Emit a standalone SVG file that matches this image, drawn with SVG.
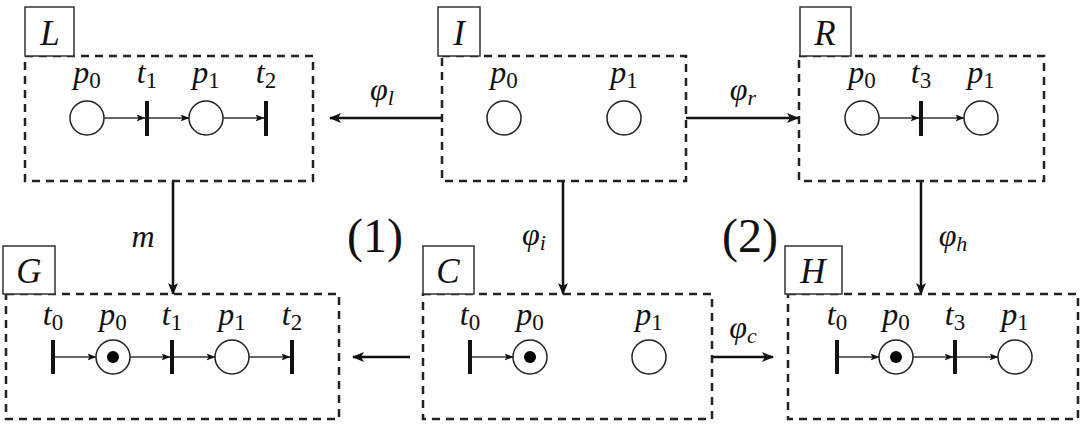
<svg xmlns="http://www.w3.org/2000/svg" width="1083" height="437" viewBox="0 0 1083 437">
<style>
.frame{fill:none;stroke:#222;stroke-width:2.5;stroke-dasharray:8 6}
.tag{fill:#fff;stroke:#333;stroke-width:1.5}
.place{fill:#fff;stroke:#222;stroke-width:1.5}
.tok{fill:#000}
.tr{stroke:#111;stroke-width:4}
.arc{stroke:#333;stroke-width:1.6;fill:none;marker-end:url(#sm)}
.map{stroke:#111;stroke-width:2.5;fill:none;marker-end:url(#bg)}
</style>
<defs>
<marker id="bg" viewBox="0 0 12 10" refX="11" refY="5" markerWidth="12" markerHeight="10" markerUnits="userSpaceOnUse" orient="auto"><path d="M0,0 L12,5 L0,10 L3,5 z" fill="#111"/></marker>
<marker id="sm" viewBox="0 0 9 7" refX="8.5" refY="3.5" markerWidth="9" markerHeight="7" markerUnits="userSpaceOnUse" orient="auto"><path d="M0,0 L9,3.5 L0,7 L2,3.5 z" fill="#111"/></marker>
</defs>

<g id="connectors">
<line class="map" x1="442" y1="118" x2="330" y2="118"/>
<line class="map" x1="686" y1="118" x2="798" y2="118"/>
<line class="map" x1="173" y1="181" x2="173" y2="294"/>
<line class="map" x1="563" y1="181" x2="563" y2="294"/>
<line class="map" x1="921" y1="181" x2="921" y2="294"/>
<line class="map" x1="410" y1="357" x2="353" y2="357"/>
<line class="map" x1="712" y1="357" x2="773" y2="357"/>
</g>

<g id="mapLabels" font-family="Liberation Serif, serif" font-style="italic" font-size="32" fill="#111" text-anchor="middle">
<text x="382" y="100">φ<tspan font-size="22" dy="5">l</tspan></text>
<text x="743" y="100">φ<tspan font-size="22" dy="5">r</tspan></text>
<text x="143" y="247">m</text>
<text x="534" y="245">φ<tspan font-size="22" dy="5">i</tspan></text>
<text x="953" y="246">φ<tspan font-size="22" dy="5">h</tspan></text>
<text x="743" y="338">φ<tspan font-size="22" dy="5">c</tspan></text>
<text x="375" y="252" font-style="normal" font-size="48">(1)</text>
<text x="750" y="252" font-style="normal" font-size="48">(2)</text>
</g>

<g id="L" font-family="Liberation Serif, serif" font-style="italic" font-size="32" fill="#111" text-anchor="middle">
<rect class="frame" x="25" y="56" width="288" height="125"/>
<rect class="tag" x="25" y="7" width="49" height="49"/>
<text x="50" y="45" font-size="35">L</text>
<circle class="place" cx="87" cy="118" r="17"/>
<line class="tr" x1="147" y1="101" x2="147" y2="136"/>
<circle class="place" cx="206" cy="118" r="17"/>
<line class="tr" x1="266" y1="101" x2="266" y2="136"/>
<line class="arc" x1="104" y1="118" x2="145" y2="118"/>
<line class="arc" x1="149" y1="118" x2="189" y2="118"/>
<line class="arc" x1="223" y1="118" x2="264" y2="118"/>
<text x="87" y="83">p<tspan font-style="normal" font-size="23" dy="5">0</tspan></text>
<text x="147" y="83">t<tspan font-style="normal" font-size="23" dy="5">1</tspan></text>
<text x="206" y="83">p<tspan font-style="normal" font-size="23" dy="5">1</tspan></text>
<text x="266" y="83">t<tspan font-style="normal" font-size="23" dy="5">2</tspan></text>
</g>

<g id="I" font-family="Liberation Serif, serif" font-style="italic" font-size="32" fill="#111" text-anchor="middle">
<rect class="frame" x="442" y="56" width="244" height="125"/>
<rect class="tag" x="438" y="7" width="42" height="49"/>
<text x="459" y="45" font-size="35">I</text>
<circle class="place" cx="504" cy="118" r="17"/>
<circle class="place" cx="624" cy="118" r="17"/>
<text x="504" y="83">p<tspan font-style="normal" font-size="23" dy="5">0</tspan></text>
<text x="624" y="83">p<tspan font-style="normal" font-size="23" dy="5">1</tspan></text>
</g>

<g id="R" font-family="Liberation Serif, serif" font-style="italic" font-size="32" fill="#111" text-anchor="middle">
<rect class="frame" x="799" y="56" width="245" height="125"/>
<rect class="tag" x="800" y="7" width="51" height="49"/>
<text x="825" y="45" font-size="35">R</text>
<circle class="place" cx="862" cy="118" r="17"/>
<line class="tr" x1="921" y1="101" x2="921" y2="136"/>
<circle class="place" cx="981" cy="118" r="17"/>
<line class="arc" x1="879" y1="118" x2="919" y2="118"/>
<line class="arc" x1="923" y1="118" x2="964" y2="118"/>
<text x="862" y="83">p<tspan font-style="normal" font-size="23" dy="5">0</tspan></text>
<text x="921" y="83">t<tspan font-style="normal" font-size="23" dy="5">3</tspan></text>
<text x="981" y="83">p<tspan font-style="normal" font-size="23" dy="5">1</tspan></text>
</g>

<g id="G" font-family="Liberation Serif, serif" font-style="italic" font-size="32" fill="#111" text-anchor="middle">
<rect class="frame" x="6" y="294" width="333" height="125"/>
<rect class="tag" x="3" y="246" width="52" height="48"/>
<text x="29" y="283" font-size="35">G</text>
<line class="tr" x1="53" y1="340" x2="53" y2="374"/>
<circle class="place" cx="113" cy="357" r="17"/>
<circle class="tok" cx="113" cy="357" r="6"/>
<line class="tr" x1="172" y1="340" x2="172" y2="374"/>
<circle class="place" cx="232" cy="357" r="17"/>
<line class="tr" x1="292" y1="340" x2="292" y2="374"/>
<line class="arc" x1="55" y1="357" x2="96" y2="357"/>
<line class="arc" x1="130" y1="357" x2="170" y2="357"/>
<line class="arc" x1="174" y1="357" x2="215" y2="357"/>
<line class="arc" x1="249" y1="357" x2="290" y2="357"/>
<text x="53" y="325">t<tspan font-style="normal" font-size="23" dy="5">0</tspan></text>
<text x="113" y="325">p<tspan font-style="normal" font-size="23" dy="5">0</tspan></text>
<text x="172" y="325">t<tspan font-style="normal" font-size="23" dy="5">1</tspan></text>
<text x="232" y="325">p<tspan font-style="normal" font-size="23" dy="5">1</tspan></text>
<text x="292" y="325">t<tspan font-style="normal" font-size="23" dy="5">2</tspan></text>
</g>

<g id="C" font-family="Liberation Serif, serif" font-style="italic" font-size="32" fill="#111" text-anchor="middle">
<rect class="frame" x="423" y="294" width="289" height="125"/>
<rect class="tag" x="423" y="246" width="51" height="48"/>
<text x="448" y="283" font-size="35">C</text>
<line class="tr" x1="470" y1="340" x2="470" y2="374"/>
<circle class="place" cx="530" cy="357" r="17"/>
<circle class="tok" cx="530" cy="357" r="6"/>
<circle class="place" cx="649" cy="357" r="17"/>
<line class="arc" x1="472" y1="357" x2="513" y2="357"/>
<text x="470" y="325">t<tspan font-style="normal" font-size="23" dy="5">0</tspan></text>
<text x="530" y="325">p<tspan font-style="normal" font-size="23" dy="5">0</tspan></text>
<text x="649" y="325">p<tspan font-style="normal" font-size="23" dy="5">1</tspan></text>
</g>

<g id="H" font-family="Liberation Serif, serif" font-style="italic" font-size="32" fill="#111" text-anchor="middle">
<rect class="frame" x="788" y="294" width="290" height="125"/>
<rect class="tag" x="785" y="246" width="57" height="48"/>
<text x="813" y="283" font-size="35">H</text>
<line class="tr" x1="837" y1="340" x2="837" y2="374"/>
<circle class="place" cx="896" cy="357" r="17"/>
<circle class="tok" cx="896" cy="357" r="6"/>
<line class="tr" x1="955" y1="340" x2="955" y2="374"/>
<circle class="place" cx="1015" cy="357" r="17"/>
<line class="arc" x1="839" y1="357" x2="879" y2="357"/>
<line class="arc" x1="913" y1="357" x2="953" y2="357"/>
<line class="arc" x1="957" y1="357" x2="998" y2="357"/>
<text x="837" y="325">t<tspan font-style="normal" font-size="23" dy="5">0</tspan></text>
<text x="896" y="325">p<tspan font-style="normal" font-size="23" dy="5">0</tspan></text>
<text x="955" y="325">t<tspan font-style="normal" font-size="23" dy="5">3</tspan></text>
<text x="1015" y="325">p<tspan font-style="normal" font-size="23" dy="5">1</tspan></text>
</g>
</svg>
